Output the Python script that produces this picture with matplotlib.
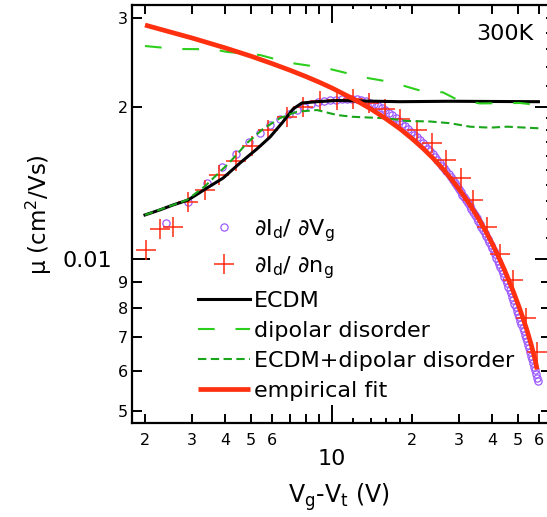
import numpy as np
import matplotlib
matplotlib.use("Agg")
import matplotlib.pyplot as plt
from matplotlib.ticker import FixedLocator, FixedFormatter

plt.rcParams['font.family'] = ['DejaVu Sans']
plt.rcParams['mathtext.default'] = 'regular'
plt.rcParams['lines.scale_dashes'] = False

# dI_d/dV_g mobility, gate sweep in 0.5 V steps
vg_dv = np.arange(2.4, 59.45, 0.5)
mu_dv = np.array([
    0.01180, 0.01296, 0.01413, 0.01520, 0.01612, 0.01700, 0.01774, 0.01840,
    0.01895, 0.01937, 0.01971, 0.02000, 0.02022, 0.02040, 0.02052, 0.02060,
    0.02065, 0.02068, 0.02070, 0.02070, 0.02067, 0.02062, 0.02052, 0.02038,
    0.02026, 0.02010, 0.01991, 0.01969, 0.01947, 0.01924, 0.01900, 0.01876,
    0.01852, 0.01829, 0.01806, 0.01783, 0.01761, 0.01739, 0.01717, 0.01695,
    0.01674, 0.01653, 0.01632, 0.01611, 0.01591, 0.01570, 0.01550, 0.01530,
    0.01510, 0.01490, 0.01471, 0.01452, 0.01433, 0.01414, 0.01396, 0.01377,
    0.01359, 0.01341, 0.01323, 0.01306, 0.01288, 0.01271, 0.01254, 0.01238,
    0.01221, 0.01205, 0.01189, 0.01173, 0.01158, 0.01142, 0.01127, 0.01112,
    0.01096, 0.01081, 0.01066, 0.01050, 0.01035, 0.01021, 0.01006, 0.00992,
    0.00978, 0.00964, 0.00951, 0.00937, 0.00923, 0.00909, 0.00895, 0.00881,
    0.00868, 0.00855, 0.00841, 0.00828, 0.00816, 0.00803, 0.00791, 0.00779,
    0.00767, 0.00755, 0.00743, 0.00731, 0.00720, 0.00709, 0.00698, 0.00687,
    0.00676, 0.00666, 0.00655, 0.00644, 0.00633, 0.00623, 0.00613, 0.00603,
    0.00593, 0.00583, 0.00574,
])

# dI_d/dn_g mobility
vg_dn = [2.02, 2.28, 2.55, 2.90, 3.36, 3.79, 4.38, 5.03, 5.78, 6.81, 7.81,
         9.04, 10.5, 12.0, 13.8, 15.9, 18.0, 20.9, 23.8, 26.8, 30.5, 33.8,
         38.1, 42.7, 47.8, 53.3, 58.7]
mu_dn = [0.01042, 0.01146, 0.01157, 0.01296, 0.01369, 0.01466, 0.01562,
         0.01673, 0.01799, 0.01908, 0.01997, 0.02052, 0.02062, 0.02072,
         0.02034, 0.01979, 0.01891, 0.01799, 0.01695, 0.01569, 0.01446,
         0.01308, 0.01157, 0.01023, 0.00909, 0.00765, 0.00655]

# ECDM model
vg_ecdm = [2.0, 2.27, 2.55, 2.90, 3.41, 3.92, 4.54, 5.25, 5.88, 6.52, 7.17,
           7.74, 8.81, 10.5, 18.0, 27.7, 59.5]
mu_ecdm = [0.01222, 0.01250, 0.01279, 0.01308, 0.01381, 0.01445, 0.01548,
           0.01650, 0.01742, 0.01857, 0.01979, 0.02034, 0.02046, 0.02057,
           0.02046, 0.02050, 0.02046]

# dipolar disorder model
vg_dip = [2.0, 2.64, 3.59, 4.06, 5.39, 6.87, 9.61, 13.3, 15.6, 18.5, 21.4,
          26.1, 29.7, 35.9, 50.8, 59.5]
mu_dip = [0.02636, 0.02600, 0.02598, 0.02566, 0.02530, 0.02445, 0.02382,
          0.02284, 0.02251, 0.02202, 0.02153, 0.02135, 0.02062, 0.02030,
          0.02034, 0.02015]

# ECDM + dipolar disorder model
vg_both = [2.0, 2.87, 3.36, 4.14, 4.82, 5.53, 6.41, 7.42, 8.81, 10.5, 12.0,
           16.1, 19.1, 23.3, 27.8, 33.0, 39.2, 45.4, 59.5]
mu_both = [0.01222, 0.01308, 0.01394, 0.01550, 0.01695, 0.01807, 0.01899,
           0.01955, 0.01970, 0.01925, 0.01910, 0.01897, 0.01874, 0.01870,
           0.01855, 0.01826, 0.01818, 0.01826, 0.01813]

# empirical fit
vg_fit = [2.0, 3.0, 4.0, 5.0, 6.0, 7.0, 8.0, 9.0, 10.0, 12.0, 14.0, 16.0,
          18.0, 20.0, 22.0, 24.0, 26.0, 28.0, 30.0, 32.0, 34.0, 36.0, 38.0,
          40.0, 42.0, 44.0, 46.0, 48.0, 50.0, 52.0, 54.0, 56.0, 58.0, 58.8]
mu_fit = [0.02900, 0.02734, 0.02613, 0.02516, 0.02432, 0.02360, 0.02295,
          0.02235, 0.02179, 0.02075, 0.01981, 0.01892, 0.01810, 0.01730,
          0.01654, 0.01581, 0.01510, 0.01441, 0.01374, 0.01310, 0.01247,
          0.01187, 0.01128, 0.01071, 0.01015, 0.00962, 0.00910, 0.00860,
          0.00812, 0.00766, 0.00721, 0.00675, 0.00628, 0.00605]

W, H = 547, 517
fig = plt.figure(figsize=(W / 100, H / 100), dpi=100)
ax = fig.add_axes([132 / W, 94 / H, 416.5 / W, 418 / H])
ax.set_xscale('log')
ax.set_yscale('log')

ax.plot(vg_dv, mu_dv, 'o', ms=5.2, mfc='none', mec='#9b59ff', mew=0.9,
        label=r'$\partial$I$_d$/ $\partial$V$_g$', zorder=3)
ax.plot(vg_dn, mu_dn, '+', ms=14, color='#ff2a10', mew=1.1,
        label=r'$\partial$I$_d$/ $\partial$n$_g$', zorder=3)
ax.plot(vg_ecdm, mu_ecdm, '-', color='black', lw=2.2, label='ECDM', zorder=4)
ax.plot(vg_dip, mu_dip, color='#2ccf1c', lw=1.5, dashes=(12, 15),
        label='dipolar disorder', zorder=4)
ax.plot(vg_both, mu_both, color='#1aa61a', lw=1.5, dashes=(6, 3.2),
        label='ECDM+dipolar disorder', zorder=4)
ax.plot(vg_fit, mu_fit, '-', color='#ff3010', lw=3.4, label='empirical fit',
        zorder=5, solid_capstyle='butt', solid_joinstyle='round')

ax.set_xlim(1.788, 64.9)
ax.set_ylim(0.004741, 0.03177)

for side in ax.spines.values():
    side.set_linewidth(1.6)

# x axis: one major decade tick, labelled minor ticks
x_major = [10]
x_minor = [2, 3, 4, 5, 6, 7, 8, 9, 12, 14, 16, 18, 20, 30, 40, 50, 60]
x_minor_txt = ['2', '3', '4', '5', '6', '', '', '', '', '', '', '', '2', '3',
               '4', '5', '6']
ax.xaxis.set_major_locator(FixedLocator(x_major))
ax.xaxis.set_major_formatter(FixedFormatter(['10']))
ax.xaxis.set_minor_locator(FixedLocator(x_minor))
ax.xaxis.set_minor_formatter(FixedFormatter(x_minor_txt))
ax.tick_params(axis='x', which='both', direction='in', top=True, bottom=True,
               width=1.4)
ax.tick_params(axis='x', which='major', length=13, pad=18.5, labelsize=16)
ax.tick_params(axis='x', which='minor', length=6.5, pad=7, labelsize=11.5)

# y axis
y_major = [0.01]
y_minor = [0.005, 0.006, 0.007, 0.008, 0.009, 0.011, 0.012, 0.013, 0.014,
           0.015, 0.016, 0.017, 0.018, 0.019, 0.02, 0.022, 0.024, 0.026,
           0.028, 0.03]
y_minor_txt = ['5', '6', '7', '8', '9', '', '', '', '', '', '', '', '', '',
               '2', '', '', '', '', '3']
ax.yaxis.set_major_locator(FixedLocator(y_major))
ax.yaxis.set_major_formatter(FixedFormatter(['0.01']))
ax.yaxis.set_minor_locator(FixedLocator(y_minor))
ax.yaxis.set_minor_formatter(FixedFormatter(y_minor_txt))
ax.tick_params(axis='y', which='both', direction='in', left=True, right=True,
               width=1.4)
ax.tick_params(axis='y', which='major', length=13, pad=14, labelsize=16)
ax.tick_params(axis='y', which='minor', length=7, pad=3, labelsize=11.5)

# finer tick lengths for the in-between ticks
for loc, t in zip(x_minor, ax.xaxis.get_minor_ticks(len(x_minor))):
    if loc in (12, 14, 16, 18):
        t.tick1line.set_markersize(3.5)
        t.tick2line.set_markersize(3.0)
for loc, t in zip(y_minor, ax.yaxis.get_minor_ticks(len(y_minor))):
    if y_minor_txt[y_minor.index(loc)] == '':
        t.tick1line.set_visible(False)
        t.tick2line.set_markersize(2.5)
    elif loc == 0.02:
        t.tick2line.set_markersize(10)
    elif loc == 0.03:
        t.tick2line.set_markersize(2.5)
    else:
        t.tick2line.set_markersize(6)
ax.yaxis.get_major_ticks(1)[0].tick2line.set_markersize(10)

ax.legend(loc='upper left', bbox_to_anchor=(0.1585, 0.493), frameon=False,
          fontsize=16, handlelength=2.35, handletextpad=0.15, borderpad=0,
          borderaxespad=0, labelspacing=0.45, numpoints=1)

ax.text(0.963, 0.955, '300K', transform=ax.transAxes, ha='right', va='top',
        fontsize=16)

fig.text(339 / W, 1 - 503 / H, 'V$_g$-V$_t$ (V)', ha='center',
         va='baseline', fontsize=17)
fig.text(39 / W, 1 - 215 / H, r'μ (cm$^2$/Vs)', ha='center', va='center',
         rotation=90, fontsize=16.5)

fig.savefig('out.png', dpi=100)
